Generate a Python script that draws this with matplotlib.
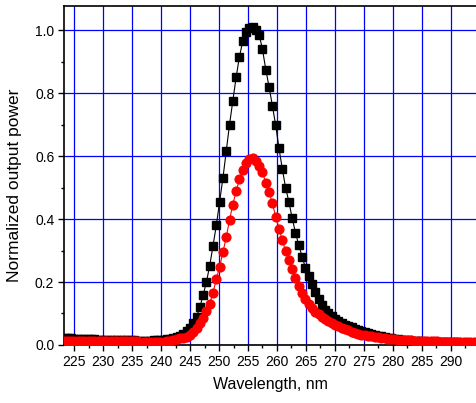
import matplotlib
matplotlib.use("Agg")
import matplotlib.pyplot as plt
import numpy as np
from matplotlib.ticker import MultipleLocator

plt.rcParams['font.family'] = ['Liberation Sans', 'DejaVu Sans']

# wavelength grid of the measured spectra (nm), ~0.57 nm step
wavelength = np.round(223.3 + 0.57 * np.arange(126), 2)

# black squares
power_black = [
    0.022, 0.021, 0.021, 0.020, 0.020, 0.019, 0.019, 0.018, 0.018, 0.018,
    0.017, 0.017, 0.017, 0.016, 0.016, 0.016, 0.016, 0.015, 0.015, 0.015,
    0.015, 0.015, 0.014, 0.014, 0.014, 0.014, 0.014, 0.015, 0.015, 0.016,
    0.017, 0.018, 0.020, 0.023, 0.026, 0.030, 0.035, 0.043, 0.054, 0.070,
    0.089, 0.120, 0.158, 0.200, 0.252, 0.315, 0.380, 0.455, 0.530, 0.615,
    0.700, 0.775, 0.850, 0.915, 0.965, 0.995, 1.008, 1.010, 1.002, 0.985,
    0.939, 0.875, 0.820, 0.760, 0.698, 0.625, 0.560, 0.500, 0.455, 0.403,
    0.357, 0.317, 0.281, 0.246, 0.219, 0.193, 0.168, 0.145, 0.126, 0.111,
    0.100, 0.092, 0.083, 0.076, 0.070, 0.065, 0.060, 0.056, 0.051, 0.047,
    0.043, 0.040, 0.037, 0.034, 0.031, 0.029, 0.027, 0.025, 0.023, 0.021,
    0.019, 0.018, 0.017, 0.016, 0.015, 0.014, 0.013, 0.012, 0.012, 0.011,
    0.011, 0.010, 0.010, 0.009, 0.009, 0.009, 0.008, 0.008, 0.008, 0.008,
    0.007, 0.007, 0.007, 0.007, 0.007, 0.007,
]

# red circles
power_red = [
    0.013, 0.013, 0.013, 0.013, 0.013, 0.013, 0.013, 0.013, 0.013, 0.013,
    0.012, 0.012, 0.012, 0.012, 0.012, 0.012, 0.012, 0.012, 0.012, 0.012,
    0.012, 0.012, 0.012, 0.011, 0.011, 0.011, 0.011, 0.011, 0.011, 0.011,
    0.011, 0.012, 0.013, 0.015, 0.018, 0.021, 0.023, 0.026, 0.032, 0.041,
    0.055, 0.069, 0.086, 0.107, 0.131, 0.166, 0.209, 0.249, 0.294, 0.342,
    0.397, 0.446, 0.488, 0.526, 0.557, 0.578, 0.590, 0.593, 0.584, 0.568,
    0.548, 0.515, 0.485, 0.450, 0.408, 0.370, 0.333, 0.298, 0.270, 0.240,
    0.212, 0.188, 0.165, 0.145, 0.130, 0.118, 0.106, 0.098, 0.090, 0.083,
    0.077, 0.071, 0.065, 0.059, 0.054, 0.050, 0.046, 0.042, 0.039, 0.036,
    0.033, 0.031, 0.029, 0.027, 0.025, 0.024, 0.022, 0.021, 0.020, 0.019,
    0.018, 0.017, 0.016, 0.016, 0.015, 0.015, 0.014, 0.014, 0.013, 0.013,
    0.013, 0.012, 0.012, 0.012, 0.011, 0.011, 0.011, 0.011, 0.011, 0.010,
    0.010, 0.010, 0.010, 0.010, 0.010, 0.010,
]

x_ticks = list(range(225, 295, 5))
y_ticks = [0.0, 0.2, 0.4, 0.6, 0.8, 1.0]

fig = plt.figure(figsize=(4.76, 4.03), dpi=100)
ax = fig.add_axes([0.1345, 0.144, 0.8655, 0.842])

ax.plot(wavelength, power_black, color='black', lw=0.8, marker='s',
        markersize=5.2, zorder=3)
ax.plot(wavelength, power_red, color='red', lw=0.8, marker='o',
        markersize=6.3, zorder=4)

ax.set_xlim(223.2, 294.4)
ax.set_ylim(0, 1.078)
ax.set_xticks(x_ticks)
ax.set_yticks(y_ticks)
ax.set_yticklabels(['%.1f' % v for v in y_ticks])
ax.xaxis.set_minor_locator(MultipleLocator(2.5))
ax.yaxis.set_minor_locator(MultipleLocator(0.1))

ax.grid(True, which='major', color='#0000ff', lw=0.9)
ax.set_axisbelow(True)

for s in ['left', 'bottom', 'top']:
    ax.spines[s].set_linewidth(1.2)
ax.spines['right'].set_visible(False)

ax.tick_params(which='major', direction='out', length=4, width=1,
               labelsize=10, pad=3, top=False, right=False)
ax.tick_params(which='minor', direction='out', length=2.5, width=1,
               top=False, right=False)

ax.set_xlabel('Wavelength, nm', fontsize=11.5, labelpad=6)
ax.set_ylabel('Normalized output power', fontsize=12.5)
ax.yaxis.set_label_coords(-0.102, 0.47)

fig.savefig('out.png', dpi=100)
